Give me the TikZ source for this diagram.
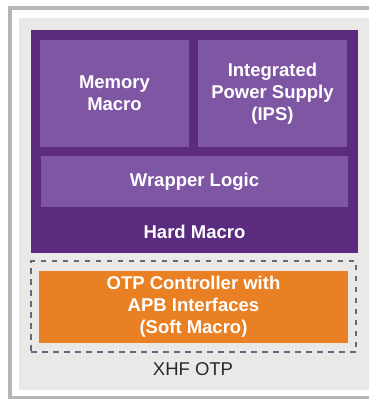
\documentclass[tikz,border=0pt]{standalone}
\usepackage{fontspec}
\setmainfont{Liberation Sans}
\definecolor{darkpurple}{RGB}{91,43,128}
\definecolor{lightpurple}{RGB}{127,86,164}
\definecolor{otporange}{RGB}{233,128,36}
\definecolor{bggray}{RGB}{235,233,231}
\definecolor{bordergray}{RGB}{182,182,182}
\definecolor{dashgray}{RGB}{96,108,125}
\definecolor{textgray}{RGB}{40,40,40}
\tikzset{
  whitetext/.style={text=white, font=\bfseries\fontsize{18.5}{21.8}\selectfont, align=center, inner sep=0pt},
  innerbox/.style={fill=lightpurple, draw=none, whitetext},
  hardbox/.style={fill=darkpurple, draw=none, inner sep=0pt},
  softbox/.style={fill=otporange, draw=none, whitetext},
  dashbox/.style={draw=dashgray, line width=2.6pt, dash pattern=on 5.5pt off 5.5pt, inner sep=0pt},
}
\begin{document}
\begin{tikzpicture}[x=1pt,y=-1pt]
\useasboundingbox (0,0) rectangle (368,399);
\fill[white] (0,0) rectangle (368,399);
% outer frame
\draw[bordergray, line width=3.5pt] (9.75,8) rectangle (390,398);
\fill[bggray] (19,18) rectangle (380,390);
% hard macro
\node[hardbox, minimum width=327pt, minimum height=223pt] (hard) at (194.5,141.5) {};
\node[whitetext] (hardlbl) at (194.5,232) {Hard Macro};
\node[innerbox, minimum width=149pt, minimum height=107pt] (mem) at (114.5,93.5) {Memory\\Macro};
\node[innerbox, minimum width=149pt, minimum height=107pt] (ips) at (272.5,93.5) {Integrated\\Power Supply\\(IPS)};
\node[innerbox, minimum width=307pt, minimum height=51pt] (wrap) at (194.5,181.5) {Wrapper Logic};
% soft macro
\node[dashbox, minimum width=325pt, minimum height=91pt] (soft) at (193.5,306.5) {};
\node[softbox, minimum width=309pt, minimum height=72pt] (otp) at (193.5,307) {OTP Controller with\\APB Interfaces\\(Soft Macro)};
\node[text=textgray, font=\fontsize{18.5}{22}\selectfont, anchor=base, inner sep=0pt] (xhf) at (193,375) {XHF OTP};
\end{tikzpicture}
\end{document}
